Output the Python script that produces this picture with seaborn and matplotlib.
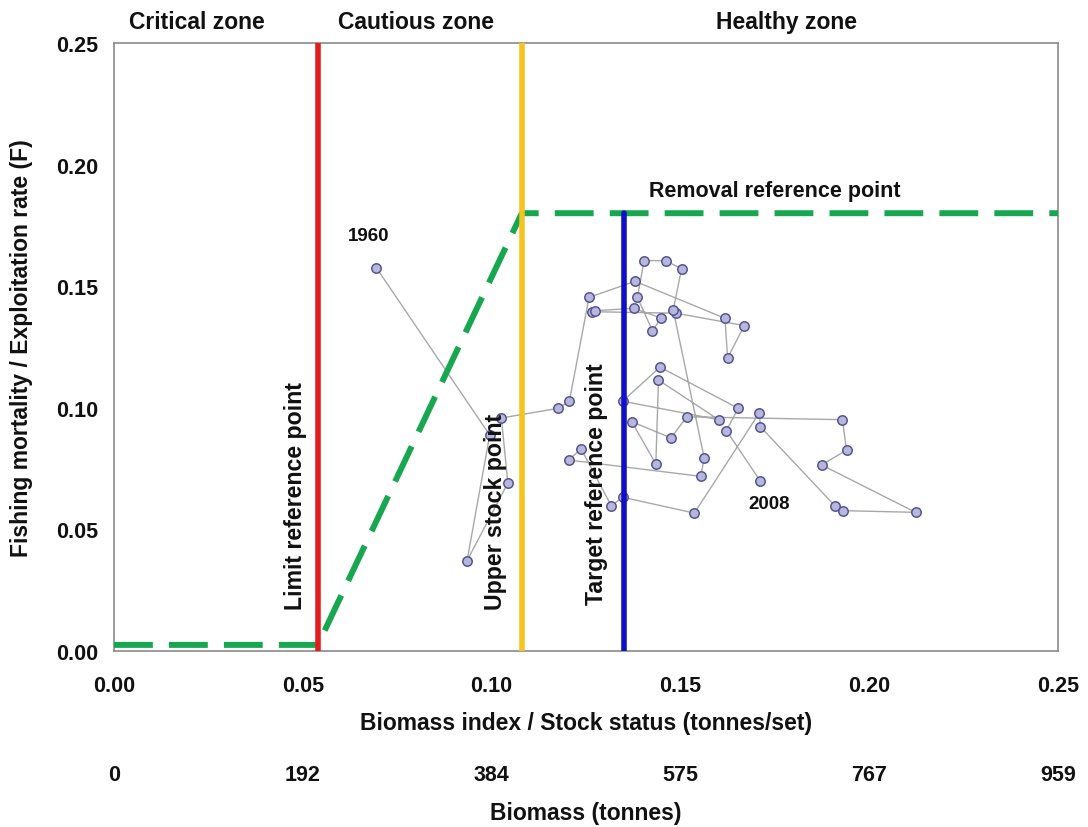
import numpy as np
import pandas as pd
import matplotlib
matplotlib.use("Agg")
import matplotlib.pyplot as plt
import seaborn as sns

# stock trajectory 1960-2008 (biomass index, exploitation rate)
years = list(range(1960, 2009))
biomass = [0.0695, 0.0995, 0.0935, 0.1043, 0.1026, 0.1177, 0.1206, 0.1258, 0.1380, 0.1618,
           0.1625, 0.1669, 0.1488, 0.1265, 0.1274, 0.1376, 0.1449, 0.1426, 0.1386, 0.1404,
           0.1461, 0.1503, 0.1481, 0.1563, 0.1554, 0.1204, 0.1237, 0.1317, 0.1347, 0.1537,
           0.1709, 0.1712, 0.1909, 0.1931, 0.2123, 0.1874, 0.1940, 0.1929, 0.1517, 0.1475,
           0.1371, 0.1435, 0.1442, 0.1601, 0.1347, 0.1446, 0.1653, 0.1622, 0.1712]
exploitation = [0.1575, 0.0888, 0.0371, 0.0690, 0.0958, 0.0998, 0.1027, 0.1454, 0.1520, 0.1368,
                0.1204, 0.1338, 0.1389, 0.1395, 0.1399, 0.1409, 0.1369, 0.1317, 0.1454, 0.1605,
                0.1605, 0.1571, 0.1402, 0.0794, 0.0718, 0.0785, 0.0831, 0.0597, 0.0632, 0.0567,
                0.0979, 0.0922, 0.0597, 0.0577, 0.0570, 0.0765, 0.0826, 0.0951, 0.0963, 0.0876,
                0.0943, 0.0769, 0.1114, 0.0951, 0.1027, 0.1167, 0.0998, 0.0906, 0.0698]

# reference points
limit_ref = 0.054
upper_stock = 0.108
target_ref = 0.135
removal_ref = 0.18

# harvest control rule
hcr_x = [0.0, 0.054, 0.108, 0.25]
hcr_y = [0.0025, 0.0025, 0.18, 0.18]

x_ticks = [0.00, 0.05, 0.10, 0.15, 0.20, 0.25]
y_ticks = [0.00, 0.05, 0.10, 0.15, 0.20, 0.25]
biomass_tonnes = ["0", "192", "384", "575", "767", "959"]

zones = ["Critical zone", "Cautious zone", "Healthy zone"]
zone_x = [0.022, 0.080, 0.178]

df = pd.DataFrame({"year": years, "biomass": biomass, "F": exploitation})

sns.set_style("white")
plt.rcParams["font.family"] = ["Liberation Sans", "DejaVu Sans"]
plt.rcParams["font.weight"] = "bold"
plt.rcParams["text.color"] = "#111111"
plt.rcParams["axes.labelcolor"] = "#111111"

fig = plt.figure(figsize=(10.88, 8.28), dpi=100)
ax = fig.add_axes([0.1048, 0.2126, 0.8676, 0.7343])

# trajectory (year order, no aggregation)
sns.lineplot(data=df, x="biomass", y="F", sort=False, estimator=None, errorbar=None,
             color="#a8a8a8", lw=1, ax=ax, zorder=2)
sns.scatterplot(data=df, x="biomass", y="F", s=46, color="#b7b7dd", edgecolor="#55558f",
                linewidth=1.1, ax=ax, zorder=3)

# reference lines
ax.plot(hcr_x, hcr_y, color="#17a750", lw=4.3, dashes=(6.5, 2.7), zorder=4,
        solid_capstyle="butt", dash_capstyle="butt")
ax.axvline(limit_ref, color="#e31b1b", lw=4, zorder=5)
ax.axvline(upper_stock, color="#f7c31f", lw=4, zorder=5)
ax.plot([target_ref, target_ref], [0, removal_ref], color="#1010c4", lw=4, zorder=5)

ax.set_xlim(0, 0.25)
ax.set_ylim(0, 0.25)
ax.set_xticks(x_ticks)
ax.set_xticklabels([f"{v:.2f}" for v in x_ticks])
ax.set_yticks(y_ticks)
ax.set_yticklabels([f"{v:.2f}" for v in y_ticks])
ax.tick_params(axis="x", direction="in", length=5, pad=17, labelsize=15.5,
               color="#777777", labelcolor="#111111")
ax.tick_params(axis="y", direction="out", length=6, pad=5, labelsize=15.5,
               color="#777777", labelcolor="#111111")
for sp in ax.spines.values():
    sp.set_color("#8a8a8a")
    sp.set_linewidth(1.2)

ax.set_xlabel("Biomass index / Stock status (tonnes/set)", fontsize=16.5, fontweight="bold", labelpad=11)
ax.set_ylabel("Fishing mortality / Exploitation rate (F)", fontsize=16.5, fontweight="bold", labelpad=17)

# second x axis in tonnes
sec = ax.secondary_xaxis(-0.181)
sec.set_xticks(x_ticks)
sec.set_xticklabels(biomass_tonnes)
sec.tick_params(length=0, pad=2, labelsize=15.5, labelcolor="#111111")
sec.spines["bottom"].set_visible(False)
sec.set_xlabel("Biomass (tonnes)", fontsize=16.5, fontweight="bold", labelpad=12)

# text labels
for name, zx in zip(zones, zone_x):
    ax.text(zx, 1.036, name, transform=ax.get_xaxis_transform(), ha="center", va="center",
            fontsize=16.5, fontweight="bold")
ax.text(0.048, 0.064, "Limit reference point", rotation=90, ha="center", va="center",
        fontsize=16.7, fontweight="bold", zorder=6)
ax.text(0.101, 0.0575, "Upper stock point", rotation=90, ha="center", va="center",
        fontsize=16.7, fontweight="bold", zorder=6)
ax.text(0.1277, 0.069, "Target reference point", rotation=90, ha="center", va="center",
        fontsize=16.7, fontweight="bold", zorder=6)
ax.text(0.175, 0.1895, "Removal reference point", ha="center", va="center",
        fontsize=15.5, fontweight="bold")
ax.text(0.0675, 0.171, "1960", ha="center", va="center", fontsize=13.5, fontweight="bold")
ax.text(0.1736, 0.0606, "2008", ha="center", va="center", fontsize=13.5, fontweight="bold")

fig.savefig("out.png", dpi=100)
